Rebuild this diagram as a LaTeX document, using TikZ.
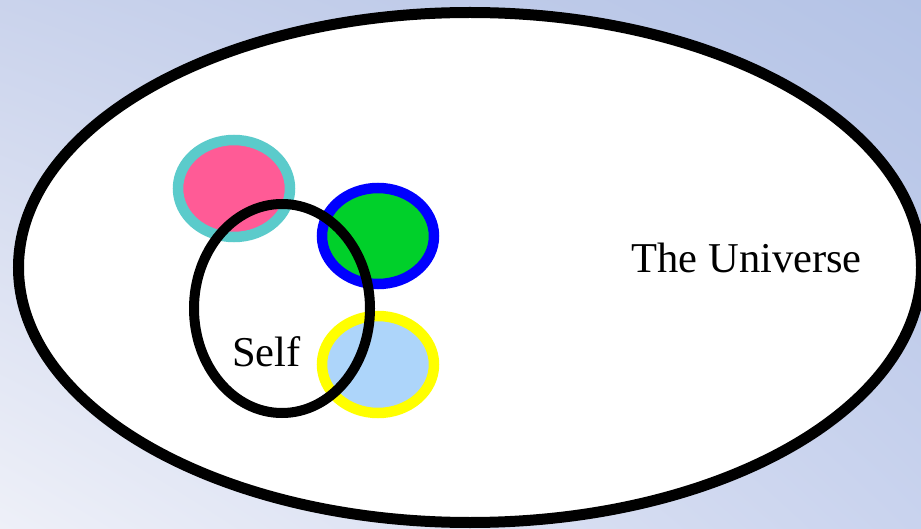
\documentclass[tikz,border=0pt]{standalone}
\usepackage{fontspec}
\setmainfont{Liberation Serif}
\usepackage{xcolor}
\usetikzlibrary{shapes.geometric,shadings}

\definecolor{bgTL}{HTML}{CAD3EC}
\definecolor{bgTR}{HTML}{B4C3E6}
\definecolor{bgBL}{HTML}{EEF0F8}
\definecolor{bgBR}{HTML}{C9D3EE}
\definecolor{ringcyan}{HTML}{5BCBCB}
\definecolor{fillpink}{HTML}{FF5B96}
\definecolor{ringblue}{HTML}{0000FF}
\definecolor{fillgreen}{HTML}{00D02A}
\definecolor{ringyellow}{HTML}{FFFF00}
\definecolor{fillsky}{HTML}{ADD5FA}

\begin{document}
\begin{tikzpicture}[x=1pt, y=-1pt,
  blob/.style={ellipse, inner sep=0pt, minimum width=112pt, minimum height=96pt, line width=10.5pt},
  lbl/.style={font=\fontsize{42.5}{48}\selectfont, inner sep=0pt, anchor=base west}]
\useasboundingbox (0,0) rectangle (921,529);
% background
\shade[upper left=bgTL, upper right=bgTR, lower left=bgBL, lower right=bgBR]
  (0,0) rectangle (921,529);
% the universe
\node[ellipse, draw=black, fill=white, line width=11pt, inner sep=0pt,
  minimum width=903pt, minimum height=510pt] (universe) at (470,267.5) {};
\node[lbl] (universelbl) at (631.5,273) {The Universe};
% three others
\node[blob, draw=ringcyan, fill=fillpink, minimum height=97pt] (pink) at (234,188.5) {};
\node[blob, draw=ringblue, fill=fillgreen] (green) at (378,236) {};
\node[blob, draw=ringyellow, fill=fillsky, minimum height=97pt] (sky) at (378,364.5) {};
% self
\node[ellipse, draw=black, line width=10pt, inner sep=0pt,
  minimum width=176pt, minimum height=209pt] (self) at (282,308.5) {};
\node[lbl] (selflbl) at (232,366.5) {Self};
\end{tikzpicture}
\end{document}
